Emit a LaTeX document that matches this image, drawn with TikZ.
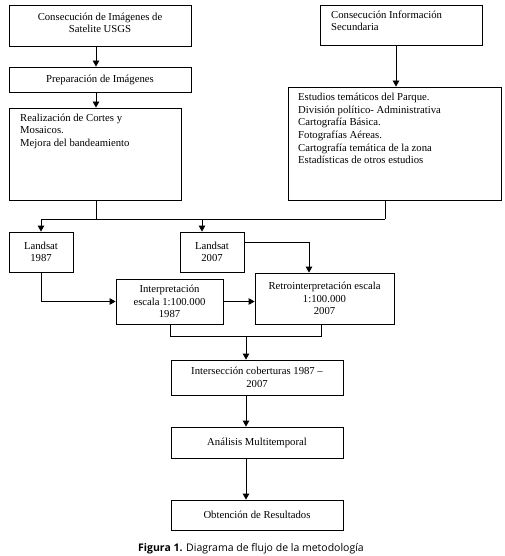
\documentclass[tikz,border=0pt]{standalone}
\usepackage{fontspec}
\setmainfont{Liberation Serif}
\newfontfamily\capfont{Open Sans}
\usetikzlibrary{arrows.meta}
\begin{document}
\begin{tikzpicture}[x=1pt,y=-1pt,
  box/.style={draw, line width=0.8pt, inner sep=0pt, minimum width=#1},
  txt/.style={inner sep=0pt, align=center, font=\fontsize{10.7}{12.6}\selectfont},
  ltxt/.style={inner sep=0pt, align=left, anchor=north west, font=\fontsize{10.7}{12.6}\selectfont},
  ln/.style={line width=0.8pt},
  arr/.style={line width=0.8pt, -{Triangle[length=6pt,width=6.5pt]}}]
\useasboundingbox (0,0) rectangle (505,556);
% boxes
\node[box=182pt, minimum height=41pt] (box1) at (100,25.5) {};
\node[txt] (t1) at (100,23) {Consecución de Imágenes de\\Satelite USGS};
\node[box=182pt, minimum height=25pt, txt] (box2) at (100,79.5) {Preparación de Imágenes};
\node[box=172pt, minimum height=92pt] (box3) at (95,154) {};
\node[ltxt] (t3) at (20,113.5) {Realización de Cortes y\\Mosaicos.\\Mejora del bandeamiento};
\node[box=162pt, minimum height=40pt] (infoA) at (401,25) {};
\node[ltxt] (tA) at (331,10.5) {Consecución Información\\Secundaria};
\node[box=213pt, minimum height=113pt] (est) at (394.5,143.5) {};
\node[ltxt] (tE) at (298,93) {Estudios temáticos del Parque.\\División político- Administrativa\\Cartografía Básica.\\Fotografías Aéreas.\\Cartografía temática de la zona\\Estadísticas de otros estudios};
\node[box=64pt, minimum height=40pt, txt] (L87) at (41,252) {Landsat\\1987};
\node[box=64pt, minimum height=40pt, txt] (L07) at (212,252) {Landsat\\2007};
\node[box=107pt, minimum height=45pt, txt] (interp) at (169.5,301.5) {Interpretación\\escala 1:100.000\\1987};
\node[box=139pt, minimum height=51pt, txt] (retro) at (324.5,298.5) {Retrointerpretación escala\\1:100.000\\2007};
\node[box=172pt, minimum height=35pt, txt] (inter) at (257,377.5) {Intersección coberturas 1987 –\\2007};
\node[box=172pt, minimum height=31pt, txt] (anal) at (257,442.5) {Análisis Multitemporal};
\node[box=172pt, minimum height=30pt, txt] (obt) at (257,515) {Obtención de Resultados};
\node[inner sep=0pt, font=\capfont\fontsize{10.5}{12}\selectfont] (cap) at (251,549) {\textbf{Figura 1.} Diagrama de flujo de la metodología};
% coordinates
\coordinate (c96) at (96,0);
\coordinate (jl) at (41,219);
\coordinate (jr) at (385,219);
\coordinate (c202) at (202,0);
\coordinate (c396) at (396,0);
\coordinate (y242) at (0,242);
\coordinate (c309) at (309,0);
\coordinate (m1) at (170,336);
\coordinate (m2) at (321,336);
\coordinate (m) at (246,336);
% connectors
\draw[arr] (box1.south -| c96) -- (box2.north -| c96);
\draw[arr] (box2.south -| c96) -- (box3.north -| c96);
\draw[ln] (box3.south -| c96) -- (c96 |- jl);
\draw[ln] (est.south -| jr) -- (jr);
\draw[ln] (jl) -- (jr);
\draw[arr] (jl) -- (L87.north);
\draw[arr] (jl -| c202) -- (L07.north -| c202);
\draw[arr] (infoA.south -| c396) -- (est.north -| c396);
\draw[arr] (L07.east |- y242) -| (retro.north -| c309);
\draw[arr] (L87.south) |- (interp.west);
\draw[arr] (interp.east) -- (retro.west |- interp.east);
\draw[ln] (interp.south -| m1) -- (m1) -- (m2) -- (retro.south -| m2);
\draw[arr] (m) -- (inter.north -| m);
\draw[arr] (inter.south -| m) -- (anal.north -| m);
\draw[arr] (anal.south -| m) -- (obt.north -| m);
\end{tikzpicture}
\end{document}
